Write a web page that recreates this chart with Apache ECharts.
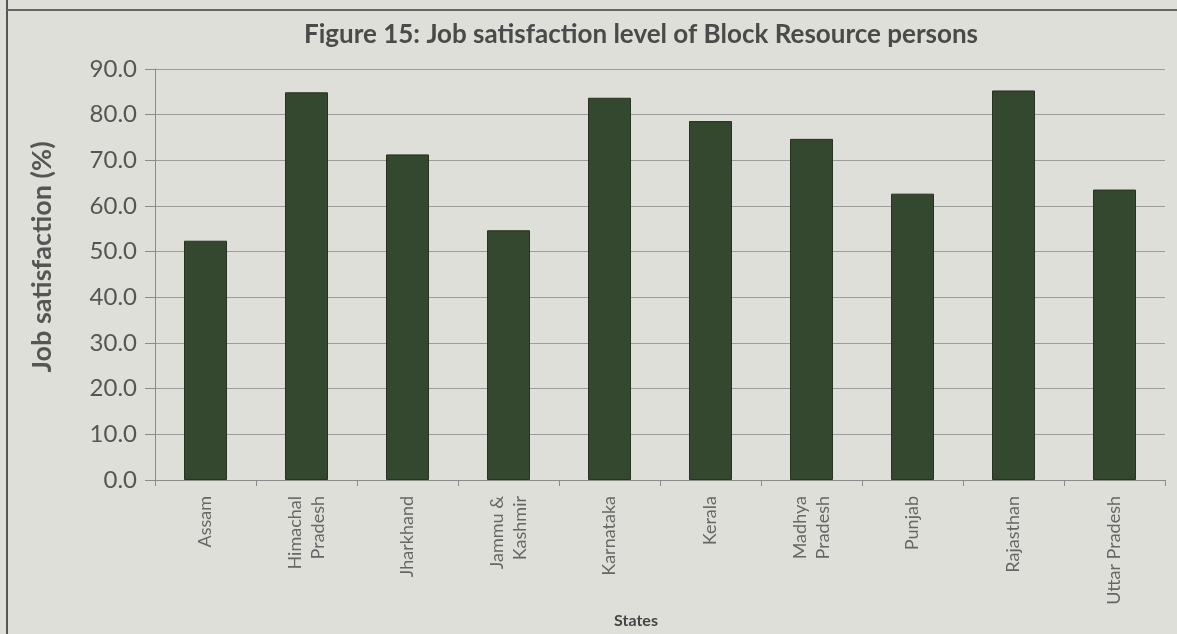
<!DOCTYPE html>
<html>
<head>
<meta charset="utf-8">
<script src="https://cdn.jsdelivr.net/npm/echarts@6/dist/echarts.min.js"></script>
<style>
html,body{margin:0;padding:0;background:#dfdfd9;}
#c{width:1177px;height:634px;}
</style>
</head>
<body>
<div id="c"></div>
<script>
const titleText = 'Figure 15: Job satisfaction level of Block Resource persons';
const yAxisTitle = 'Job satisfaction (%)';
const xAxisTitle = 'States';
const states = ['Assam', 'Himachal\nPradesh', 'Jharkhand', 'Jammu &\nKashmir', 'Karnataka', 'Kerala', 'Madhya\nPradesh', 'Punjab', 'Rajasthan', 'Uttar Pradesh'];
const satisfaction = [52.4, 84.9, 71.3, 54.7, 83.7, 78.6, 74.7, 62.7, 85.3, 63.6];
const yTicks = { min: 0, max: 90, interval: 10 };

const FONT = 'Lato, "Open Sans", sans-serif';
const chart = echarts.init(document.getElementById('c'));
chart.setOption({
  backgroundColor: '#dfdfd9',
  animation: false,
  title: {
    text: titleText,
    left: 636, top: 17, textAlign: 'center',
    textStyle: { fontFamily: FONT, fontSize: 26, fontWeight: 'bold', color: '#4a4a4a' }
  },
  grid: { left: 155, right: 12, top: 69, bottom: 152, containLabel: false },
  xAxis: {
    type: 'category',
    data: states,
    name: xAxisTitle,
    nameLocation: 'middle',
    nameGap: 133,
    nameTextStyle: { fontFamily: FONT, fontSize: 16, fontWeight: 'bold', color: '#444', padding: [0, 48, 0, 0] },
    axisLine: { lineStyle: { color: '#8a8a8a', width: 1 } },
    axisTick: { show: true, alignWithLabel: false, length: 6, lineStyle: { color: '#8a8a8a' } },
    axisLabel: { rotate: 90, margin: 16, fontFamily: FONT, fontSize: 18, color: '#666', lineHeight: 23 }
  },
  yAxis: {
    type: 'value',
    min: yTicks.min, max: yTicks.max, interval: yTicks.interval,
    axisLine: { show: true, lineStyle: { color: '#8a8a8a', width: 1 } },
    axisTick: { show: true, length: 10, lineStyle: { color: '#8a8a8a' } },
    splitLine: { show: true, lineStyle: { color: '#9c9c9c', width: 1 } },
    axisLabel: { margin: 18, fontFamily: FONT, fontSize: 24, color: '#555', formatter: v => v.toFixed(1) }
  },
  graphic: [
    { type: 'line', shape: { x1: 7, y1: 0, x2: 7, y2: 634 }, style: { stroke: '#555', lineWidth: 2 } },
    { type: 'line', shape: { x1: 7, y1: 10, x2: 1177, y2: 10 }, style: { stroke: '#666', lineWidth: 2 } },
    { type: 'text', x: 42, y: 257, rotation: Math.PI / 2,
      style: { text: yAxisTitle, fontFamily: FONT, fontSize: 27, fontWeight: 'bold', fill: '#555', align: 'center', verticalAlign: 'middle' } }
  ],
  series: [{
    type: 'bar',
    data: satisfaction,
    barWidth: 43,
    itemStyle: { color: '#34472f', borderColor: '#27331f', borderWidth: 1 }
  }]
});
</script>
</body>
</html>
